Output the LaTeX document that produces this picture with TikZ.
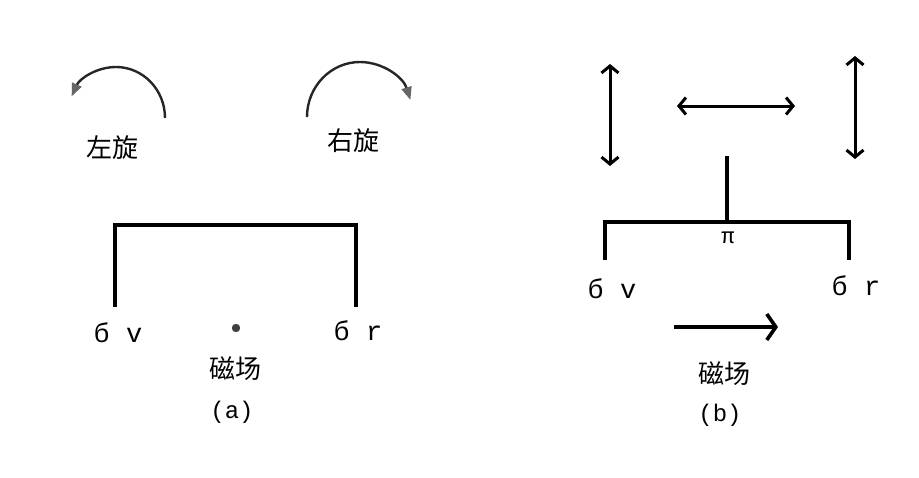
\documentclass[tikz,border=0pt]{standalone}
\usepackage{fontspec}
\setmonofont{Liberation Mono}
\newfontfamily\cjk{Noto Sans CJK SC}
\usetikzlibrary{arrows.meta}

\begin{document}
\begin{tikzpicture}[
  x=1pt,y=-1pt,
  han/.style={font=\cjk\fontsize{26}{28}\selectfont,inner sep=0pt},
  mono/.style={font=\ttfamily\fontsize{27}{29}\selectfont,inner sep=0pt},
  tag/.style={font=\ttfamily\fontsize{24}{26}\selectfont,inner sep=0pt},
  bar/.style={line width=3.2pt,line join=miter},
  turn/.style={-{Triangle[length=13pt,width=10pt,color=black!60]},line width=2.4pt,draw=black!85},
  swing/.style={{Straight Barb[length=7pt,width=17pt]}-{Straight Barb[length=7pt,width=17pt]},
                line width=3pt},
  field/.style={-{Straight Barb[length=9pt,width=26pt]},line width=3.6pt},
  every path/.style={line cap=butt}
]
\fill[white] (0,0) rectangle (919,477);

% (a)
\draw[turn] (165,118) arc[start angle=0,end angle=-155,x radius=49,y radius=51];
\draw[turn] (307,117) arc[start angle=-180,end angle=-18,x radius=53,y radius=55];
\node[han] (left) at (112,148) {左旋};
\node[han] (right) at (353,141) {右旋};

\coordinate (av) at (115,307);
\coordinate (ar) at (356,307);
\draw[bar] (av) -- ++(0,-82) -| (ar);
\node[mono] (sva) at (118,333) {б v};
\node[mono] (sra) at (358,331) {б r};
\fill[black!75] (236,328) circle[radius=4.2];
\node[han] (fielda) at (235,369) {磁场};
\node[tag] (a) at (232,412) {(a)};

% (b)
\draw[swing] (610,64) -- (610,166);
\draw[swing] (677,106) -- (795,106);
\draw[swing] (855,56) -- (855,159);

\coordinate (stem) at (727,156);
\coordinate (bv) at (605,260);
\coordinate (br) at (849,260);
\draw[bar] (stem) -- (727,222);
\draw[bar] (bv) -- ++(0,-38) -| (br);
\node[font=\ttfamily\fontsize{22}{24}\selectfont,inner sep=0pt] (pi) at (728,238) {π};
\node[mono] (svb) at (612,289) {б v};
\node[mono] (srb) at (856,286) {б r};

\coordinate (bs) at (674,327);
\coordinate (be) at (778,327);
\draw[field] (bs) -- (be);
\node[han] (fieldb) at (724,374) {磁场};
\node[tag] (b) at (720,415) {(b)};
\end{tikzpicture}
\end{document}
